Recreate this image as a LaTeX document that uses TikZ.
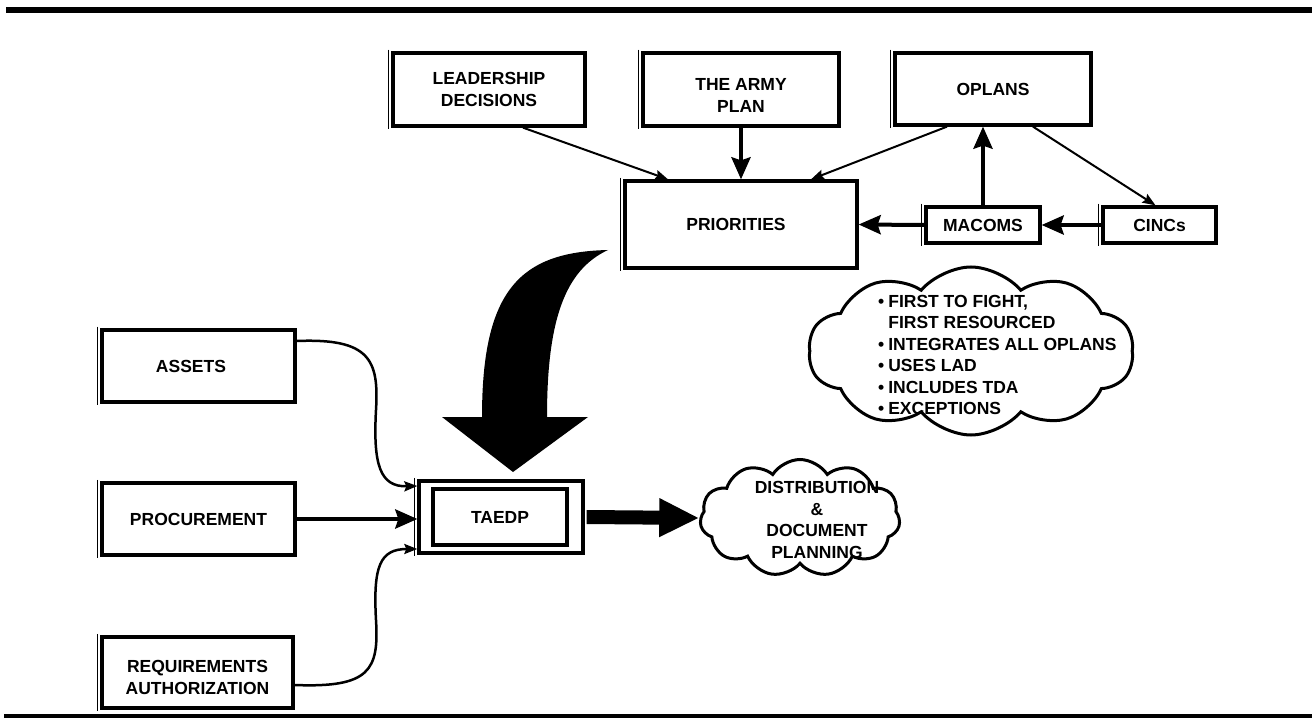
\documentclass[tikz,border=0pt]{standalone}
\usepackage{fontspec}
\setmainfont{Liberation Sans}
\usetikzlibrary{arrows.meta,shapes.symbols,calc}
\begin{document}
\begin{tikzpicture}[x=1pt,y=-1pt,
  font=\fontsize{17.5}{21.5}\selectfont\bfseries,
  bx/.style={draw, line width=3.3pt, rectangle, inner sep=0pt, align=center},
  thinside/.style={line width=1.1pt},
  thinarr/.style={line width=2pt, -{Stealth[length=13pt,width=10pt,inset=2pt]}},
  thickarr/.style={line width=4pt, -{Stealth[length=22pt,width=19pt,inset=3pt]}},
  curvearr/.style={line width=2.5pt, -{Stealth[length=13pt,width=10pt,inset=2pt]}},
  cloudy/.style={cloud, draw, line width=3pt, inner sep=0pt}
]
\useasboundingbox (0,0) rectangle (1312,719);
% rules
\fill (6,7) rectangle (1312,13);
\fill (4,714) rectangle (1312,718);

% boxes
\node[bx, minimum width=192pt, minimum height=73pt] (lead) at (489,89.5) {LEADERSHIP\\DECISIONS};
\node[bx, minimum width=196pt, minimum height=73pt,
  label={[yshift=-6pt, align=center, inner sep=0pt]center:THE ARMY\\PLAN}] (army) at (741,89.5) {};
\node[bx, minimum width=196pt, minimum height=72pt] (oplans) at (993,89) {OPLANS};
\node[bx, minimum width=232pt, minimum height=87pt] (prio) at (741,224.5) {PRIORITIES\hspace*{10pt}};
\node[bx, minimum width=114pt, minimum height=36pt] (macoms) at (983,225) {MACOMS};
\node[bx, minimum width=113pt, minimum height=36pt] (cincs) at (1159.5,225) {CINCs};
\node[bx, minimum width=193pt, minimum height=72pt] (assets) at (198.5,366) {ASSETS\hspace*{15pt}};
\node[bx, minimum width=193pt, minimum height=72pt] (proc) at (198.5,519) {PROCUREMENT};
\node[bx, minimum width=191pt, minimum height=71pt,
  label={[yshift=-5pt, align=center, inner sep=0pt]center:REQUIREMENTS\\AUTHORIZATION}] (req) at (197.5,672.5) {};
\node[bx, minimum width=164pt, minimum height=72pt] (taedp) at (501,517) {};
\node[bx, minimum width=134pt, minimum height=56pt] (taedpin) at (500,517) {TAEDP};

% thin outer left lines
\foreach \n in {lead,army,oplans,prio,macoms,cincs,assets,proc,req,taedp}{
  \draw[thinside] ([xshift=-3.3pt,yshift=1.6pt]\n.north west) -- ([xshift=-3.3pt,yshift=-1.6pt]\n.south west);
}

% clouds
\node[cloudy, cloud puffs=10, cloud puff arc=100, minimum width=325pt, minimum height=168pt] (cl1) at (971,351) {};
\node[anchor=north west, inner sep=0pt] (cl1txt) at (878,292) {\renewcommand\arraystretch{1}\begin{tabular}{@{}l@{\hspace{4pt}}l@{}}
\textbullet & FIRST TO FIGHT,\\
 & FIRST RESOURCED\\
\textbullet & INTEGRATES ALL OPLANS\\
\textbullet & USES LAD\\
\textbullet & INCLUDES TDA\\
\textbullet & EXCEPTIONS
\end{tabular}};
\node[cloudy, cloud puffs=11, cloud puff arc=115, minimum width=200pt, minimum height=117pt] (cl2) at (800,518) {};
\node[align=center, inner sep=0pt] (cl2txt) at (817,520) {DISTRIBUTION\\\&\\DOCUMENT\\PLANNING};

% connectors top
\draw[thinarr] ([xshift=34pt]lead.south) -- ([xshift=-73pt]prio.north);
\draw[thickarr] (army.south) -- (prio.north);
\draw[thinarr] ([xshift=-46pt]oplans.south) -- ([xshift=70pt]prio.north);
\draw[thinarr] ([xshift=40pt]oplans.south) -- ([xshift=-4pt]cincs.north);
\draw[thickarr] (macoms.north) -- (macoms.north |- oplans.south);
\draw[thickarr] (macoms.west) -- (prio.east);
\draw[thickarr] (cincs.west) -- (macoms.east);

% big curved arrow
\fill (608,250) .. controls (520,252) and (482,290) .. (482,417)
  -- (442,417) -- (513,472) -- (588,417) -- (547,417)
  .. controls (547,320) and (565,270) .. (608,250) -- cycle;

% left connectors
\draw[curvearr] ([yshift=25pt]assets.east) .. controls (370,338) and (379,360) .. (376,410)
  .. controls (373,465) and (380,487) .. ([yshift=31pt]taedp.west);
\draw[thickarr] (proc.east) -- (proc.east -| taedp.west);
\draw[curvearr] ([yshift=-12.5pt]req.east) .. controls (370,688) and (379,670) .. (376,620)
  .. controls (373,566) and (380,549) .. ([yshift=-32pt]taedp.west);

% taedp -> distribution
\draw[line width=14pt, -{Triangle[length=40pt,width=36pt]}] ([xshift=2pt]taedp.east) -- (cl2.west);
\end{tikzpicture}
\end{document}
